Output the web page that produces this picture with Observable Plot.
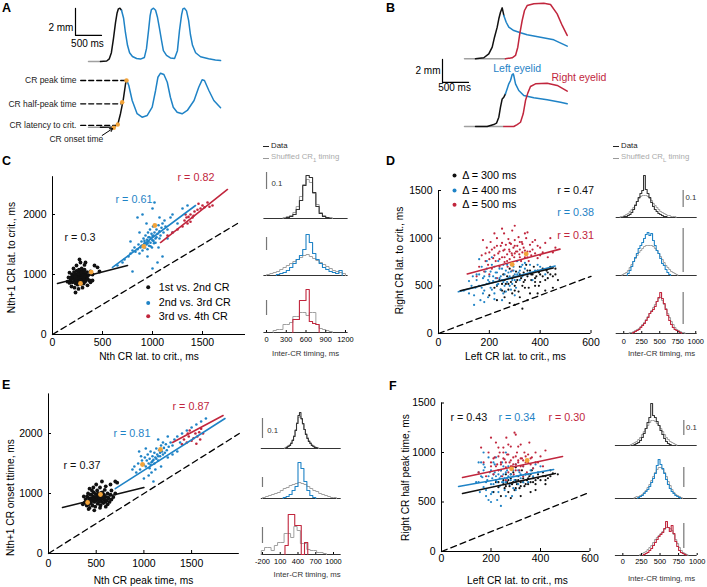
<!DOCTYPE html>
<html><head><meta charset="utf-8">
<script src="https://cdn.jsdelivr.net/npm/d3@7"></script>
<script src="https://cdn.jsdelivr.net/npm/@observablehq/plot@0.6"></script>
<style>
body{margin:0;background:#fff;}
#fig{position:relative;width:707px;height:587px;overflow:hidden;font-family:"Liberation Sans",Arial,sans-serif;background:#fff;}
#fig svg{position:absolute;left:0;top:0;}
.lab{position:absolute;white-space:nowrap;line-height:1;transform:translateY(-50%);}
.pl{font-weight:bold;font-size:12.5px;color:#000;}
.hl{font-size:7.8px;}
.sw{position:absolute;height:0;width:6px;}
</style></head><body><div id="fig"></div>
<script>
// ================= DATA =================
// Panel A traces: [time ms, eyelid amplitude mm]
const aTopGray  = [[0,0],[230,0]];
const aTopBlack = [[230,0],[350,0.04],[400,0.2],[440,0.65],[480,1.7],[520,2.9],[550,3.6],[575,3.9],[605,3.95],[635,3.8]];
const aTopBlue  = [[635,3.8],[675,3.2],[710,2.15],[750,1.2],[790,0.65],[845,0.37],[925,0.22],[1000,0.18],[1075,0.3],[1115,0.95],[1155,2.3],[1185,3.4],[1210,3.85],[1250,3.95],[1290,3.8],[1325,3.3],[1365,2.45],[1405,1.55],[1440,0.8],[1500,0.45],[1575,0.26],[1655,0.22],[1710,0.8],[1750,2.3],[1790,3.45],[1815,3.9],[1845,3.95],[1885,3.75],[1925,3.05],[1960,2.0],[2000,1.2],[2060,0.65],[2155,0.35],[2310,0.2],[2440,0.11],[2540,0.07]];
const aBotGray  = [[0,0],[230,0]];
const aBotBlack = [[230,0],[480,0.02],[563,0.2],[615,1.0],[667,2.0],[712,3.2],[731,3.51]];
const aBotBlue  = [[731,3.51],[775,3.09],[840,1.98],[935,1.0],[1030,0.74],[1130,0.87],[1225,1.48],[1290,2.72],[1335,3.7],[1385,4.0],[1450,3.9],[1515,3.33],[1575,2.22],[1630,1.48],[1705,1.11],[1800,0.99],[1900,1.24],[2030,1.98],[2120,2.96],[2185,3.51],[2230,3.46],[2315,2.72],[2410,1.98],[2540,1.44]];
const aBotMarks = [[731,3.46],[648,1.85],[563,0.2],[487,-0.04]];
const aNoteText = ["CR peak time","CR half-peak time","CR latency to crit."];
const aNoteAmp  = [3.46,1.73,0.13];
const aNoteEnd  = [715,625,520];

// Panel B traces
const bTopGray  = [[0,0],[788,0]];
const bTopBlack = [[212,0],[371,0.09],[467,0.43],[533,1.01],[577,1.88],[629,2.75],[660,3.48],[692,4.05],[725,4.43],[756,3.77]];
const bTopBlue  = [[756,3.77],[802,3.18],[852,2.75],[948,2.46],[1077,2.26],[1205,2.09],[1462,1.88],[1717,1.65],[1975,1.1]];
const bTopRed   = [[788,0],[917,0.09],[981,0.29],[1025,1.01],[1063,2.17],[1109,3.33],[1154,4.2],[1205,4.63],[1333,4.78],[1525,4.83],[1654,4.72],[1782,3.91],[1879,2.9],[1975,2.03]];
const bBotGray  = [[0,0],[756,0]];
const bBotBlack = [[212,0],[436,0],[563,0.17],[615,0.29],[660,0.81],[692,1.68],[725,2.4],[756,2.55],[788,2.84]];
const bBotBlue  = [[788,2.84],[821,3.28],[852,3.71],[885,4.0],[917,4.52],[937,4.58],[948,4.43],[981,3.71],[1044,3.13],[1140,2.7],[1333,2.5],[1590,2.32],[1846,2.11],[1975,1.97]];
const bBotRed   = [[756,0],[948,0],[1013,0.17],[1077,0.37],[1129,1.1],[1173,2.26],[1217,2.9],[1269,3.48],[1365,3.71],[1590,3.77],[1783,3.57],[1975,3.07]];

// Panel C scatter: [Nth CR lat., Nth+1 CR lat.] ms
const cBlack = [[180,900],[190,950],[195,1000],[200,870],[205,930],[210,980],[215,1040],[220,900],[225,960],[228,1010],[232,850],[235,920],[238,990],[240,1060],[245,880],[248,940],[250,1000],[252,830],[255,960],[258,1030],[260,900],[262,970],[265,1080],[268,860],[270,930],[272,1000],[275,1050],[278,890],[280,960],[282,1020],[285,840],[288,910],[290,980],[292,1100],[295,870],[298,940],[300,1010],[302,1060],[305,900],[308,960],[310,1030],[312,850],[315,920],[318,990],[320,1080],[325,880],[328,950],[330,1010],[335,900],[340,970],[345,1040],[350,930],[360,990],[370,900],[380,1050],[400,1000],[420,1150],[450,1120],[470,1050],[160,950],[170,1030],[150,880],[190,800],[220,780],[260,760],[300,780],[240,1150],[280,1200],[320,1160],[350,820],[230,700],[270,1250],[210,1100],[380,870],[170,860],[330,1200],[400,900],[240,910],[265,940],[290,1030],[255,1010],[305,990],[230,960],[280,900],[315,1050]];
const cBlue = [[650,1150],[700,1200],[720,1250],[760,1300],[780,1350],[800,1400],[820,1450],[830,1380],[850,1420],[860,1500],[870,1350],[880,1450],[890,1550],[900,1400],[905,1480],[910,1600],[920,1520],[925,1450],[930,1650],[940,1500],[945,1580],[950,1420],[955,1700],[960,1550],[965,1480],[970,1620],[975,1750],[980,1530],[985,1600],[990,1680],[995,1450],[1000,1570],[1005,1800],[1010,1650],[1015,1520],[1020,1700],[1030,1600],[1040,1750],[1050,1680],[1060,1820],[1070,1720],[1080,1650],[1090,1780],[1100,1850],[1110,1700],[1120,1900],[1130,1800],[1150,1750],[1180,1950],[1200,2000],[1250,1850],[1300,2100],[1350,2150],[900,2000],[1000,2100],[1020,2200],[850,1950],[1100,1300],[1050,1200],[1000,1100],[800,1050],[950,1300],[1060,1450],[870,1700],[780,1550],[1150,1600],[1200,1700],[940,1850],[1070,1950],[920,1560],[960,1620],[1000,1640],[1030,1530],[980,1470],[1040,1620],[1010,1560],[890,1480],[950,1520],[1070,1600]];
const cRed = [[1150,1650],[1200,1700],[1250,1750],[1300,1800],[1320,1900],[1340,1950],[1350,1850],[1360,1960],[1380,2000],[1400,1950],[1420,2050],[1450,2080],[1480,2100],[1500,2150],[1520,2120],[1550,2200],[1600,2150],[1380,1880],[1330,2000],[1460,2180],[1570,2130],[1410,1980]];
const cFits = [[[50,850],[750,1150]],[[600,1117],[1430,2150]],[[1080,1533],[1750,2417]]];
const cOrange = [[280,850],[387,1040],[913,1467],[1023,1817]];
const cR = ["r = 0.3","r = 0.61","r = 0.82"];
const cLegend = ["1st vs. 2nd CR","2nd vs. 3rd CR","3rd vs. 4th CR"];

// Panel D scatter: [Left CR lat., Right CR lat.] ms
const dRed = [[160,700],[170,820],[180,650],[185,760],[190,900],[195,720],[200,850],[205,960],[210,680],[215,790],[220,900],[225,760],[230,1000],[235,840],[240,700],[245,920],[250,800],[255,870],[258,1050],[260,750],[265,930],[270,830],[272,700],[275,990],[278,880],[280,780],[285,940],[288,840],[290,1080],[292,720],[295,900],[298,800],[300,980],[305,860],[308,760],[310,920],[315,1010],[318,830],[320,880],[325,760],[328,960],[330,850],[335,900],[340,800],[345,1000],[350,860],[355,760],[360,930],[365,820],[370,880],[380,980],[390,790],[400,900],[410,850],[420,950],[430,800],[440,1000],[460,900],[150,600],[200,620],[300,1130],[250,1100],[350,1060],[175,980],[230,580],[290,660],[200,780],[210,880],[220,820],[230,920],[240,860],[250,950],[260,880],[270,760],[280,860],[290,820],[300,920],[310,860],[320,800],[330,940],[340,870],[350,800],[360,860],[370,960],[380,840],[390,920],[260,800],[280,950],[300,840],[320,960],[240,780],[220,1050],[340,1050],[400,820],[185,840],[450,850]];
const dBlue = [[100,450],[120,550],[140,400],[150,620],[160,500],[165,350],[170,700],[175,580],[180,450],[185,650],[190,520],[195,380],[200,600],[205,480],[210,720],[215,550],[220,420],[225,640],[230,510],[235,760],[240,580],[245,460],[250,680],[255,540],[260,620],[265,440],[270,720],[275,580],[280,500],[285,650],[290,560],[295,700],[300,620],[305,480],[310,760],[315,640],[320,560],[325,700],[330,600],[340,680],[350,620],[360,720],[370,560],[380,660],[400,700],[420,620],[140,300],[180,330],[250,350],[210,800],[160,780],[300,400],[130,500],[190,760],[150,560],[160,620],[170,480],[180,600],[190,680],[200,540],[205,650],[210,460],[215,600],[220,700],[225,580],[230,640],[235,520],[240,680],[245,600],[250,560],[255,720],[260,500],[265,660],[270,540],[275,640],[280,600],[285,720],[290,520],[295,660],[300,560],[310,620],[320,660],[330,720],[120,420],[135,600],[145,480],[175,420],[195,560],[220,360],[255,420],[285,460],[340,740],[360,640],[390,720]];
const dBlack = [[200,400],[220,480],[230,350],[240,560],[250,450],[255,620],[260,380],[265,520],[270,600],[275,460],[280,680],[285,540],[290,420],[295,600],[300,500],[305,650],[310,560],[315,440],[320,700],[325,580],[330,500],[335,640],[340,560],[345,720],[350,600],[355,480],[360,660],[365,560],[370,620],[375,700],[380,540],[385,600],[390,660],[395,500],[400,620],[410,680],[420,560],[430,640],[440,700],[450,600],[460,680],[300,300],[350,350],[390,420],[420,450],[280,320],[330,260],[450,480],[470,560],[230,500],[245,460],[260,560],[275,520],[290,580],[305,540],[320,620],[335,540],[350,660],[365,620],[380,580],[395,640],[410,600],[425,660],[440,620],[300,450],[340,480],[380,500],[260,440],[320,380],[360,420],[400,540],[430,580],[460,620],[250,520]];
const dFits = [[[86,448],[451,688]],[[78,438],[459,708]],[[113,625],[478,885]]];
const dOrange = [[290,724],[345,836]];
const dR = ["r = 0.47","r = 0.38","r = 0.31"];
const dLegend = ["Δ = 300 ms","Δ = 400 ms","Δ = 500 ms"];

// Panel E scatter: [Nth CR peak time, Nth+1 CR onset time] ms
const eBlack = [[380,850],[390,900],[400,800],[405,950],[410,870],[415,1000],[420,820],[425,920],[430,760],[435,880],[440,980],[445,840],[450,920],[455,1050],[460,800],[465,880],[470,950],[475,1020],[480,860],[485,920],[490,780],[495,990],[500,880],[505,940],[510,1050],[515,830],[520,900],[525,980],[530,860],[535,940],[540,1100],[545,800],[550,900],[555,970],[560,860],[565,1020],[570,920],[575,840],[580,980],[585,900],[590,1060],[595,860],[600,940],[610,880],[620,1000],[630,920],[640,860],[650,980],[660,1050],[680,940],[700,1000],[720,1180],[700,1200],[650,1150],[600,1120],[560,1200],[470,1100],[430,1080],[370,950],[360,820],[420,740],[480,720],[540,760],[600,780],[500,1150],[620,820],[660,900],[450,980],[520,1000],[560,930],[470,900],[510,960],[550,1010],[590,960],[440,900]];
const eBlue = [[880,1400],[900,1450],[920,1350],[940,1500],[960,1400],[980,1550],[1000,1480],[1010,1600],[1020,1450],[1030,1550],[1040,1650],[1050,1500],[1060,1580],[1070,1700],[1080,1520],[1090,1620],[1100,1560],[1110,1680],[1120,1600],[1130,1750],[1140,1650],[1150,1550],[1160,1720],[1170,1620],[1180,1800],[1190,1700],[1200,1650],[1210,1760],[1220,1680],[1230,1820],[1240,1720],[1260,1780],[1280,1850],[1300,1800],[1320,1900],[1350,1950],[1400,2000],[1450,2050],[1500,2100],[1550,2150],[1600,2200],[1650,2250],[1000,1250],[1050,1300],[1100,1200],[950,1700],[1020,1750],[1150,1900],[1250,1600],[1300,1650],[1350,1700],[1080,1350],[1180,1450],[1120,1400],[1250,1950],[1380,1850],[1200,1850],[970,1620],[1060,1420],[1090,1540],[1110,1500],[1130,1580],[1070,1480],[1150,1620],[1170,1680]];
const eRed = [[1400,1820],[1420,1900],[1450,1850],[1470,1950],[1480,2050],[1500,1880],[1520,1920],[1540,2000],[1560,1950],[1580,2020],[1600,2080],[1620,2000],[1550,1830],[1460,2000],[1590,1900]];
const eFits = [[[147,767],[1000,1100]],[[700,1080],[1850,2250]],[[1300,1850],[1830,2300]]];
const eOrange = [[410,850],[545,983],[985,1483],[1174,1733]];
const eR = ["r = 0.37","r = 0.81","r = 0.87"];

// Panel F scatter: [Left CR lat., Right CR half peak time] ms
const fRed = [[150,800],[170,900],[180,760],[190,1000],[200,860],[210,780],[215,950],[220,1100],[225,880],[230,820],[235,1000],[240,900],[245,760],[250,1050],[255,930],[260,850],[262,1150],[265,980],[270,800],[275,900],[280,1060],[285,860],[290,950],[292,780],[295,1200],[300,880],[305,1000],[310,920],[315,820],[320,1080],[325,940],[330,860],[335,1000],[340,900],[345,800],[350,980],[355,1100],[360,880],[365,950],[370,840],[380,1000],[390,900],[400,960],[410,860],[420,1020],[200,1150],[300,1180],[260,720],[330,760],[160,1050],[200,900],[210,940],[220,860],[230,960],[240,880],[250,940],[260,900],[270,980],[280,920],[290,880],[300,960],[310,900],[320,940],[330,920],[340,960],[350,900],[360,940],[280,860],[300,820],[320,860],[250,1000],[270,1080],[310,1060],[230,1050],[380,900]];
const fBlue = [[140,700],[150,800],[155,600],[160,900],[165,750],[170,650],[175,850],[180,560],[185,720],[190,950],[195,800],[200,680],[205,600],[210,780],[215,880],[220,720],[225,520],[230,820],[235,660],[240,760],[245,900],[250,700],[255,620],[260,800],[265,740],[270,860],[275,680],[280,780],[285,560],[290,820],[295,720],[300,880],[305,760],[310,680],[315,800],[320,740],[330,860],[340,780],[350,700],[360,820],[370,760],[380,880],[390,800],[400,860],[240,460],[200,500],[170,1000],[260,1000],[300,620],[220,950],[150,700],[160,760],[170,820],[180,700],[190,760],[200,820],[205,740],[210,680],[215,800],[220,760],[225,700],[230,780],[235,740],[240,820],[245,700],[250,780],[255,740],[260,700],[265,820],[270,760],[280,720],[290,760],[300,700],[310,820],[320,780],[180,620],[200,580],[230,600],[260,560],[290,640],[170,880],[210,900],[250,860],[330,700],[350,780],[190,520],[150,900],[370,840]];
const fBlack = [[210,600],[220,700],[230,650],[240,560],[250,720],[255,640],[260,780],[265,700],[270,600],[275,660],[280,740],[285,680],[290,800],[295,620],[300,720],[305,680],[310,760],[315,640],[320,700],[325,820],[330,740],[335,660],[340,780],[345,720],[350,680],[355,760],[360,700],[365,820],[370,740],[380,680],[390,780],[400,720],[410,800],[420,760],[430,740],[440,820],[280,540],[320,560],[360,600],[240,820],[300,850],[380,620],[420,680],[450,790],[230,700],[250,680],[270,720],[290,700],[310,720],[330,700],[350,740],[370,700],[390,740],[410,760],[300,640],[340,680],[380,720],[260,660],[320,660],[280,780],[360,780],[420,720],[440,760],[470,780]];
const fFits = [[[85,586],[460,788]],[[69,657],[453,828]],[[85,747],[489,960]]];
const fOrange = [[283,835],[346,919]];
const fR = ["r = 0.43","r = 0.34","r = 0.30"];

// Histograms of inter-CR timing: [first bin start ms, bin width ms, heights (scale bar units)]
const hC = [
  {data:[300,50,[1,2,4,9,18,33,43,41,26,12,5,2,1]], shuf:[250,50,[1,2,3,6,12,22,34,39,36,25,14,6,3,1,1]]},
  {data:[150,50,[1,2,3,5,8,12,16,20,26,41,33,22,16,12,8,6,4,3,2,5]], shuf:[0,50,[1,2,3,4,6,8,10,12,14,16,18,20,21,19,17,15,13,11,9,7,5,4,3,2]]},
  {data:[400,50,[13,13,32,32,43,11,9,8]], shuf:[100,50,[2,3,3,8,8,10,16,16,20,20,17,20,20,8,4,3,2,1]]}
];
const hD = [
  {data:[0,25,[1,1,2,3,5,8,12,16,20,24,27,42,28,24,20,15,11,8,6,4,3,2,1,1]], shuf:[-50,25,[1,1,2,3,4,6,8,10,13,16,19,21,22,22,22,21,19,17,14,12,10,8,6,5,4,3,2,2,1,1,1]]},
  {data:[50,25,[2,5,9,14,18,22,27,30,33,37,41,43,40,42,35,30,25,22,17,12,10,6,3,1]], shuf:[-25,25,[1,2,3,5,8,11,14,17,20,23,25,27,29,30,30,30,30,29,27,25,22,19,16,13,10,8,6,4,3,2,1]]},
  {data:[125,25,[1,2,3,4,6,8,10,13,16,20,22,24,27,32,36,41,35,30,24,18,13,9,6,4,3,2,1]], shuf:[75,25,[1,1,2,3,4,5,7,9,11,14,17,20,23,26,29,32,35,36,33,29,25,20,16,12,9,6,4,3,2,1,1]]}
];
const hE = [
  {data:[200,25,[1,2,3,5,8,12,18,25,33,36,30,25,19,14,10,7,5,3,2,1,1]], shuf:[175,25,[1,2,3,4,6,9,13,19,26,31,32,29,24,19,15,11,8,6,4,3,2,1,1]]},
  {data:[150,50,[1,2,4,8,12,36,30,17,8,3,1]], shuf:[-200,50,[1,2,3,4,5,6,8,10,11,13,14,15,16,15,14,12,10,8,7,5,4,3,2,1,1]]},
  {data:[180,55,[9,40,40,29,29,0,12]], shuf:[-220,55,[4,7,7,4,9,12,12,21,21,17,28,24,11,11,5,4,4,2,2,1]]}
];
const hF = [
  {data:[150,25,[1,2,3,5,8,12,17,23,28,42,30,28,24,20,15,11,7,4,2,1]], shuf:[100,25,[1,2,3,4,6,8,11,14,17,20,23,25,25,24,22,20,17,14,11,8,6,4,3,2,1]]},
  {data:[200,25,[1,2,3,5,7,9,12,16,20,25,33,39,34,30,25,19,14,10,7,5,3,2,1]], shuf:[150,25,[1,2,2,3,4,6,8,11,14,18,22,26,29,31,31,29,26,22,17,13,9,6,4,3,2,1]]},
  {data:[275,25,[1,2,3,5,7,10,13,16,19,21,23,27,34,28,24,30,22,14,9,5,3,2,1]], shuf:[225,25,[1,2,3,4,6,8,10,13,16,18,20,22,24,26,28,28,27,25,21,16,12,8,5,3,2,1]]}
];
// 0.1 probability scale bars: [x ms, from, to] in histogram units
const barsC = [[0,29,46],[0,25,38],[0,17,32]];
const barsD = [[825,10,27],[825,3,47],[825,9,41]];
const barsE = [[-200,10,30],[-200,11,21],[-200,11,27]];
const barsF = [[820,10,25],[820,11,31],[820,7,32]];
const ticksC = [0,300,600,900,1200];
const ticksD = [0,250,500,750,1000];
const ticksE = [-200,100,400,700,1000];

// ================= DRAWING =================
const W = 707, H = 587;
const FONT = '"Liberation Sans", Arial, Helvetica, sans-serif';
const BLK = "#111", BLUE = "#1f83c6", RED = "#c1263d", ORANGE = "#f2a33a", GRAY = "#a0a0a0";
const fig = document.getElementById("fig");

function place(frame, opts) {
  const [l, t, r, b] = frame;
  const svg = Plot.plot({
    width: W, height: H,
    marginLeft: l, marginTop: t, marginRight: W - r, marginBottom: H - b,
    style: {background: "transparent", fontFamily: FONT, fontSize: "10.5px", color: "#000", overflow: "visible"},
    ...opts
  });
  fig.appendChild(svg);
}
function txt(x, y, s, o = {}) {
  return Plot.text([{x, y, s}], {x: "x", y: "y", text: "s", fontSize: 10.5, fill: "#000", ...o});
}
function html(s, x, y, cls, style = "") {
  const d = document.createElement("div");
  d.className = "lab " + cls;
  d.style.cssText = `left:${x}px;top:${y}px;${style}`;
  d.innerHTML = s;
  fig.appendChild(d);
}
const trace = (pts, c) => Plot.line(pts, {stroke: c, strokeWidth: 1.5});

// ---- Panel A ----
place([88, 7, 218, 61], {
  x: {domain: [0, 2500], axis: null}, y: {domain: [0, 4], axis: null},
  marks: [
    trace(aTopGray, GRAY), trace(aTopBlack, BLK), trace(aTopBlue, BLUE),
    Plot.line([[-250, 3.93], [-250, 1.93], [250, 1.93]], {stroke: "#000", strokeWidth: 1.2}),
    txt(-290, 2.5, "2 mm", {textAnchor: "end", fontSize: 10}),
    txt(-20, 1.33, "500 ms", {fontSize: 10})
  ]
});
place([88, 72.7, 218, 126.7], {
  x: {domain: [0, 2500], axis: null}, y: {domain: [0, 4], axis: null},
  marks: [
    ...aNoteAmp.map((a, i) => Plot.line([[-150, a], [aNoteEnd[i], a]], {stroke: "#000", strokeWidth: 1.3, strokeDasharray: "5,3"})),
    trace(aBotGray, GRAY), trace(aBotBlack, BLK), trace(aBotBlue, BLUE),
    Plot.dot(aBotMarks, {r: 2.2, fill: ORANGE}),
    ...aNoteText.map((s, i) => txt(-231, aNoteAmp[i], s, {textAnchor: "end", fontSize: 8.5, fill: "#222"})),
    txt(-234, -0.93, "CR onset time", {fontSize: 8.5, fill: "#222"}),
    Plot.arrow([{x1: 263, y1: -0.61, x2: 465, y2: -0.1}], {x1: "x1", y1: "y1", x2: "x2", y2: "y2", stroke: "#000", strokeWidth: 1, headLength: 5})
  ]
});

// ---- Panel B ----
place([464, 0.8, 568, 58.3], {
  x: {domain: [0, 2000], axis: null}, y: {domain: [0, 5], axis: null},
  marks: [trace(bTopGray, GRAY), trace(bTopBlack, BLK), trace(bTopBlue, BLUE), trace(bTopRed, RED)]
});
place([464, 68.5, 568, 126], {
  x: {domain: [0, 2000], axis: null}, y: {domain: [0, 5], axis: null},
  marks: [
    trace(bBotGray, GRAY), trace(bBotBlack, BLK), trace(bBotBlue, BLUE), trace(bBotRed, RED),
    Plot.line([[-423, 5.83], [-423, 3.83], [77, 3.83]], {stroke: "#000", strokeWidth: 1.2}),
    txt(-462, 4.87, "2 mm", {textAnchor: "end", fontSize: 10}),
    txt(-192, 3.39, "500 ms", {fontSize: 10}),
    txt(1013, 5.02, "Left eyelid", {fill: BLUE, fontSize: 10.5}),
    txt(1673, 4.23, "Right eyelid", {fill: RED, fontSize: 10.5, textAnchor: "start"})
  ]
});

// ---- scatter panels ----
function scatterPanel(c) {
  const marks = [
    Plot.ruleX([c.xdom[0]], {stroke: "#000", strokeWidth: 1}),
    Plot.ruleY([c.ydom[0]], {stroke: "#000", strokeWidth: 1}),
    Plot.axisX(c.xticks, {tickSize: -3, tickPadding: c.xpad, fontSize: 10.5, tickFormat: d => String(d), label: null}),
    Plot.axisY(c.yticks, {tickSize: -3, tickPadding: 9, fontSize: 10.5, tickFormat: d => String(d), label: null}),
    Plot.line(c.diag, {stroke: "#000", strokeWidth: 1.3, strokeDasharray: "6,4"})
  ];
  for (const [pts, col, r] of c.clouds) marks.push(Plot.dot(pts, {r, fill: col}));
  for (const [pts, col] of c.fits) marks.push(Plot.line(pts, {stroke: col, strokeWidth: 1.6}));
  marks.push(Plot.dot(c.oranges, {r: 2.4, fill: ORANGE}));
  for (const t of c.texts) marks.push(txt(t[0], t[1], t[2], {fill: t[3], textAnchor: "start", fontSize: 10.8}));
  if (c.legend) for (const l of c.legend) {
    marks.push(Plot.dot([[l[0], l[2]]], {r: 2, fill: l[4]}));
    marks.push(txt(l[1], l[2], l[3], {textAnchor: "start", fontSize: 10.8}));
  }
  marks.push(txt(c.xlab[0], c.ydom[0], c.xlab[2], {dy: c.xlab[1], fontSize: 10.2}));
  marks.push(txt(c.xdom[0], c.ylab[0], c.ylab[2], {dx: c.ylab[1], rotate: -90, fontSize: 10.2}));
  place(c.frame, {x: {domain: c.xdom, axis: null}, y: {domain: c.ydom, axis: null}, marks});
}

scatterPanel({
  frame: [52, 176.2, 245, 334], xdom: [0, 1930], ydom: [0, 2630],
  xticks: [0, 500, 1000, 1500], yticks: [0, 1000, 2000], xpad: 7,
  diag: [[0, 0], [1850, 1850]],
  clouds: [[cBlack, BLK, 1.9], [cBlue, BLUE, 1.3], [cRed, RED, 1.3]],
  fits: [[cFits[0], BLK], [cFits[1], BLUE], [cFits[2], RED]],
  oranges: cOrange,
  texts: [[120, 1622, cR[0], BLK], [630, 2245, cR[1], BLUE], [1250, 2622, cR[2], RED]],
  legend: [[957, 1063, 787, cLegend[0], BLK], [957, 1063, 527, cLegend[1], BLUE], [957, 1063, 305, cLegend[2], RED]],
  xlab: [965, 22, "Nth CR lat. to crit., ms"],
  ylab: [1283, -41, "Nth+1 CR lat. to crit., ms"]
});
scatterPanel({
  frame: [438, 190, 590.5, 333], xdom: [0, 600], ydom: [0, 1500],
  xticks: [0, 200, 400, 600], yticks: [0, 500, 1000, 1500], xpad: 8,
  diag: [[0, 0], [600, 600]],
  clouds: [[dBlack, BLK, 1.1], [dRed, RED, 1.1], [dBlue, BLUE, 1.1]],
  fits: [[dFits[2], RED], [dFits[1], BLUE], [dFits[0], BLK]],
  oranges: dOrange,
  texts: [[467, 1500, dR[0], BLK], [467, 1270, dR[1], BLUE], [467, 1028, dR[2], RED]],
  legend: [[63, 93, 1658, dLegend[0], BLK], [63, 93, 1500, dLegend[1], BLUE], [63, 93, 1350, dLegend[2], RED]],
  xlab: [303, 23, "Left CR lat. to crit., ms"],
  ylab: [766, -39, "Right CR lat. to crit., ms"]
});
scatterPanel({
  frame: [48, 393.4, 238.8, 553], xdom: [0, 2000], ydom: [0, 2660],
  xticks: [0, 500, 1000, 1500], yticks: [0, 1000, 2000], xpad: 9,
  diag: [[0, 0], [2000, 2000]],
  clouds: [[eBlack, BLK, 1.9], [eBlue, BLUE, 1.3], [eRed, RED, 1.3]],
  fits: [[eFits[0], BLK], [eFits[1], BLUE], [eFits[2], RED]],
  oranges: eOrange,
  texts: [[157, 1467, eR[0], BLK], [681, 2000, eR[1], BLUE], [1300, 2450, eR[2], RED]],
  xlab: [996, 27, "Nth CR peak time, ms"],
  ylab: [933, -38, "Nth+1 CR onset ttime, ms"]
});
scatterPanel({
  frame: [441, 402.5, 589.5, 551], xdom: [0, 600], ydom: [0, 1500],
  xticks: [0, 200, 400, 600], yticks: [0, 500, 1000, 1500], xpad: 6,
  diag: [[0, 0], [600, 600]],
  clouds: [[fBlack, BLK, 1.1], [fBlue, BLUE, 1.1], [fRed, RED, 1.1]],
  fits: [[fFits[2], RED], [fFits[1], BLUE], [fFits[0], BLK]],
  oranges: fOrange,
  texts: [[36, 1353, fR[0], BLK], [230, 1353, fR[1], BLUE], [432, 1353, fR[2], RED]],
  xlab: [307, 29, "Left CR lat. to crit., ms"],
  ylab: [747, -36, "Right CR half peak time, ms"]
});

// ---- histogram panels ----
function stepPts(x0, w, vals) {
  const pts = [[x0, 0]];
  vals.forEach((v, i) => pts.push([x0 + i * w, v]));
  pts.push([x0 + vals.length * w, 0]);
  return pts;
}
function histColumn(hs, bars, colors, px, xdom, bases, ticks, tickPad, labDy, labX, barLabel) {
  hs.forEach((h, i) => {
    const marks = [
      Plot.ruleY([0], {stroke: "#000", strokeWidth: 0.8}),
      Plot.line(stepPts(...h.shuf), {curve: "step-after", stroke: GRAY, strokeWidth: 1}),
      Plot.line(stepPts(...h.data), {curve: "step-after", stroke: colors[i], strokeWidth: 1.1}),
      Plot.ruleX([bars[i][0]], {y1: bars[i][1], y2: bars[i][2], stroke: "#777", strokeWidth: 1.2})
    ];
    if (i === 0) marks.push(txt(barLabel[0], barLabel[1], "0.1", {textAnchor: "start", fontSize: 7.8, fill: "#333"}));
    if (i === 2) {
      marks.push(Plot.axisX(ticks, {tickSize: -2, tickPadding: tickPad, fontSize: 7.4, tickFormat: d => String(d), label: null}));
      marks.push(txt(labX, 0, "Inter-CR timing, ms", {dy: labDy, fontSize: 7.8, fill: "#333"}));
    }
    place([px[0], bases[i] - 50, px[1], bases[i]], {x: {domain: xdom, axis: null}, y: {domain: [0, 50], axis: null}, marks});
  });
}
histColumn(hC, barsC, ["#333", BLUE, RED], [263.4, 347.6], [-40, 1240], [218, 275, 332], ticksC, 6, 21, 593, [76, 35]);
histColumn(hD, barsD, ["#333", BLUE, RED], [615.7, 696.7], [-105, 1020], [217, 275, 333], ticksD, 7, 20, 524, [857, 20]);
histColumn(hE, barsE, ["#333", BLUE, RED], [260.8, 340.7], [-220, 1130], [448, 498, 554], ticksE, 6, 20, 555, [-121, 18]);
histColumn(hF, barsF, ["#333", BLUE, RED], [614.9, 696.7], [-100, 1000], [445, 498, 555], ticksD, 5, 23, 520, [850, 18]);

// ---- HTML labels: panel letters and histogram legends ----
html("A", 2, 8, "pl"); html("B", 386, 8, "pl");
html("C", 2, 161, "pl"); html("D", 386, 161, "pl");
html("E", 2, 385, "pl"); html("F", 389, 386, "pl");
function histLegend(x, sub) {
  const a = document.createElement("div"); a.className = "sw";
  a.style.cssText = `left:${x}px;top:145.5px;border-top:1.4px solid #222;`; fig.appendChild(a);
  const b = document.createElement("div"); b.className = "sw";
  b.style.cssText = `left:${x}px;top:157.5px;border-top:1.4px solid #999;`; fig.appendChild(b);
  html("Data", x + 8, 146, "hl", "color:#222;");
  html(`Shuffled CR<sub style="font-size:6px">${sub}</sub> timing`, x + 8, 158, "hl", "color:#aaa;");
}
histLegend(263, "1");
histLegend(613, "L");
</script></body></html>
